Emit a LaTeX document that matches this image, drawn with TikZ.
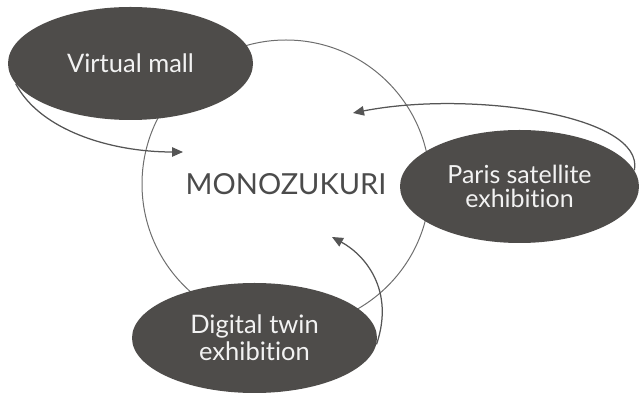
\documentclass[tikz,border=0pt]{standalone}
\usepackage{fontspec}
\setmainfont{Lato}[Ligatures=NoCommon]
\usepackage{tikz}
\usepackage{color}
\usetikzlibrary{shapes.geometric,arrows.meta}

\definecolor{blobgray}{RGB}{78,76,74}
\definecolor{ringgray}{RGB}{110,110,110}
\definecolor{arrowgray}{RGB}{85,85,85}
\definecolor{textgray}{RGB}{75,75,75}
\definecolor{labelwhite}{RGB}{242,242,242}

\tikzset{
  blob/.style={ellipse, fill=blobgray, text=labelwhite, inner sep=0pt, minimum width=4.9cm, minimum height=2.26cm, align=center},
  flow/.style={arrowgray, line width=0.025 cm, ->},
  >={Triangle[length=2.2mm,width=1.9mm]}
}

\begin{document}
\begin{tikzpicture}
\useasboundingbox (0,0) rectangle (12.78,7.88);
\node[circle, draw=ringgray, line width=0.02 cm, minimum size=5.76cm, text=textgray, font=\fontsize{16.5}{20}\selectfont] (mono) at (5.72,4.20) {MONOZUKURI};

\node[blob, font=\fontsize{14.5}{17}\selectfont] (vmall) at (2.61,6.61) {Virtual mall};
\node[blob, minimum width=4.78cm, font=\fontsize{14.2}{13.9}\selectfont] (paris) at (10.39,4.15) {Paris satellite\\exhibition};
\node[blob, minimum height=2.2cm, font=\fontsize{14.5}{15.5}\selectfont] (dtwin) at (5.09,1.12) {Digital twin\\exhibition};

\coordinate (vmtip) at (3.66,4.84);
\coordinate (pstip) at (7.06,5.62);
\coordinate (dttip) at (6.64,3.14);

\draw[flow] (vmall.190) .. controls (0.8,5.28) and (2.2,4.84) .. (vmtip);
\draw[flow] (paris.8) .. controls (12.9,5.58) and (9.4,6.08) .. (pstip);
\draw[flow] (dtwin.-3) .. controls (7.9,2.08) and (7.3,2.78) .. (dttip);

\end{tikzpicture}
\end{document}
